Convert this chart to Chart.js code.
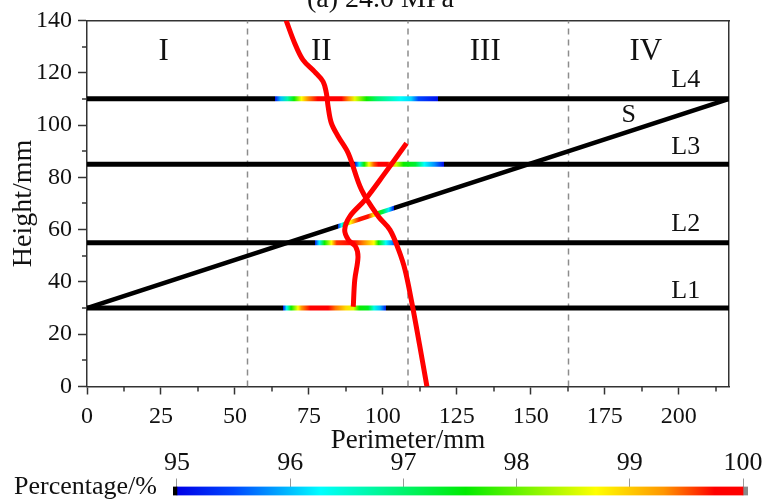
<!DOCTYPE html>
<html lang="en">
<head>
<meta charset="UTF-8" />
<title>Height vs Perimeter</title>
<script src="https://cdn.jsdelivr.net/npm/chart.js"></script>
<style>
  body { margin: 0; background: #fff; }
  .wrap { position: relative; width: 764px; height: 502px; overflow: hidden; background: #fff; }
  #main { position: absolute; left: 0; top: 0; }
  #bar { position: absolute; left: 0; top: 440px; }
  .title {
    position: absolute; left: 307px; top: -16.5px;
    font: 28px 'Liberation Serif', 'Times New Roman', serif;
    line-height: 28px; color: #111; white-space: nowrap;
  }
</style>
</head>
<body>
<div class="wrap">
  <canvas id="main" width="764" height="502"></canvas>
  <canvas id="bar" width="764" height="88"></canvas>
  <div class="title">(a) 24.0 MPa</div>
</div>
<script>
// axes
const xMax = 217
const xTicks = [0, 25, 50, 75, 100, 125, 150, 175, 200]
const yTicks = [0, 20, 40, 60, 80, 100, 120, 140]
const pctTicks = [95, 96, 97, 98, 99, 100]

// regions I-IV
const dividerX = [54.25, 108.5, 162.75]
const regionNames = ['I', 'II', 'III', 'IV']
const regionX = [25.9, 79.2, 134.6, 188.9]
const regionY = 128

// measuring lines L1-L4 and the slanted line S
const levelNames = ['L1', 'L2', 'L3', 'L4']
const levelY = [30, 55, 85, 110]
const levelLabelX = 202.4
const levelLabelY = [36.6, 62.2, 91.7, 117.3]
const slopeX = [0, 217]
const slopeY = [30, 110]
const slopeLabel = { x: 183.1, y: 103.9 }

// coloured bands on each line (perimeter, percentage)
const l1BandX = [66.2, 67.5, 69, 71.3, 72.5, 75.5, 81.5, 84, 87.5, 90, 92, 95, 97, 99, 101.2]
const l1BandPct = [95, 96.3, 97.6, 98.7, 99.3, 99.9, 99.9, 99.4, 98.9, 98.6, 97.6, 97.4, 96.4, 96, 95.1]
const l2BandX = [76.9, 78.5, 80.3, 82.6, 84.4, 90, 93, 95.5, 97, 98.5, 101, 103, 104.5]
const l2BandPct = [95, 96.2, 97.6, 98.7, 99.6, 99.9, 99.4, 99, 98.7, 97.6, 96.3, 95.8, 95.1]
const l3BandX = [90.5, 92, 93.7, 95.3, 97, 98.5, 101.5, 103, 104.5, 107, 111, 114, 117.5, 120.5]
const l3BandPct = [95, 96.2, 97.6, 98.7, 99.5, 99.9, 99.8, 99.2, 98.5, 97.6, 97.3, 96.3, 95.8, 95.1]
const l4BandX = [63.4, 65.5, 67.8, 70, 72.5, 74.5, 78, 86, 88.5, 90.5, 94.5, 98, 106, 109.5, 112, 118.8]
const l4BandPct = [95, 96, 96.7, 97.6, 98.7, 99.3, 99.8, 99.8, 99.3, 98.6, 97.6, 97, 96.3, 96.1, 95.5, 95.1]
const sBandX = [84.7, 86, 87.5, 89, 92, 95, 97, 98.5, 100, 102, 103.8]
const sBandPct = [95, 96.3, 97.6, 98.7, 99.7, 99.7, 98.7, 97.7, 97.2, 96.2, 95.1]

// red curves
const curveAX = [67.3, 70.2, 73.0, 76.9, 79.8, 80.9, 81.5, 82.6, 84.9, 88.3, 92.8, 98.5, 102.4, 105.3, 107.5, 109.8, 112.4, 114.9]
const curveAY = [140, 131.3, 124.9, 120.4, 116.6, 112.2, 107.0, 100.7, 95.6, 89.2, 75.2, 65.0, 59.9, 52.3, 44.6, 32, 16, 0]
const curveBX = [90, 90.5, 91.6, 90.8, 88.4, 87.1, 88.8, 93.9, 100.7, 108]
const curveBY = [30.5, 40.7, 49.5, 53.5, 56, 59.9, 65, 71.3, 81.6, 93]

// colour bar ends (under / over caps)
const pctLow = 94.965
const pctHigh = 100.044

const serif = "'Liberation Serif', 'Times New Roman', serif"
Chart.defaults.font.family = serif
Chart.defaults.color = '#111'

const jetStops = [
  [95, [0, 0, 230]], [95.5, [0, 70, 255]], [96.27, [0, 255, 255]], [97.55, [0, 235, 0]],
  [98.7, [255, 255, 0]], [99.3, [255, 150, 0]], [99.75, [255, 0, 0]], [100, [255, 0, 0]]
]
function jet(p) {
  if (p <= jetStops[0][0]) return 'rgb(' + jetStops[0][1].join(',') + ')'
  for (let i = 1; i < jetStops.length; i++) {
    const [v1, c1] = jetStops[i]
    const [v0, c0] = jetStops[i - 1]
    if (p <= v1) {
      const t = (p - v0) / (v1 - v0)
      const c = c0.map((a, k) => Math.round(a + (c1[k] - a) * t))
      return 'rgb(' + c.join(',') + ')'
    }
  }
  return 'rgb(255,0,0)'
}

// black line with a coloured band, gradient follows the x scale
function bandColor(x0, x1, bandX, bandPct) {
  return ctx => {
    const chart = ctx.chart
    if (!chart.chartArea) return '#000'
    const xs = chart.scales.x
    const p0 = xs.getPixelForValue(x0)
    const p1 = xs.getPixelForValue(x1)
    const off = v => Math.min(1, Math.max(0, (xs.getPixelForValue(v) - p0) / (p1 - p0)))
    const g = chart.ctx.createLinearGradient(p0, 0, p1, 0)
    g.addColorStop(0, '#000')
    g.addColorStop(off(bandX[0]), '#000')
    bandX.forEach((v, i) => g.addColorStop(off(v), jet(bandPct[i])))
    g.addColorStop(off(bandX[bandX.length - 1]), '#000')
    g.addColorStop(1, '#000')
    return g
  }
}

const bands = [[l1BandX, l1BandPct], [l2BandX, l2BandPct], [l3BandX, l3BandPct], [l4BandX, l4BandPct]]

const datasets = []
dividerX.forEach(x => {
  datasets.push({
    data: [{ x: x, y: 0 }, { x: x, y: 140 }],
    borderColor: '#8c8c8c', borderWidth: 1.5, borderDash: [6, 5], order: 3
  })
})
levelY.forEach((y, i) => {
  datasets.push({
    data: [{ x: 0, y: y }, { x: xMax, y: y }],
    borderColor: bandColor(0, xMax, bands[i][0], bands[i][1]), borderWidth: 5, order: 2
  })
})
datasets.push({
  data: slopeX.map((x, i) => ({ x: x, y: slopeY[i] })),
  borderColor: bandColor(slopeX[0], slopeX[1], sBandX, sBandPct), borderWidth: 4.5, order: 2
})
datasets.push({
  data: curveAX.map((x, i) => ({ x: x, y: curveAY[i] })),
  borderColor: '#ff0000', borderWidth: 5, tension: 0.35, order: 1
})
datasets.push({
  data: curveBX.map((x, i) => ({ x: x, y: curveBY[i] })),
  borderColor: '#ff0000', borderWidth: 5, tension: 0.35, order: 0
})
datasets.forEach(d => { d.showLine = true; d.pointRadius = 0; d.fill = false })

const minorTicks = {
  id: 'minorTicks',
  afterDraw(chart) {
    const { ctx, scales: { x, y } } = chart
    ctx.save()
    ctx.strokeStyle = '#333'
    ctx.lineWidth = 1.5
    for (let v = 12.5; v < xMax; v += 25) {
      const px = Math.round(x.getPixelForValue(v))
      ctx.beginPath(); ctx.moveTo(px, x.top); ctx.lineTo(px, x.top + 5); ctx.stroke()
    }
    for (let v = 10; v < 140; v += 20) {
      const py = Math.round(y.getPixelForValue(v))
      ctx.beginPath(); ctx.moveTo(y.right, py); ctx.lineTo(y.right - 5, py); ctx.stroke()
    }
    ctx.restore()
  }
}

const annotations = {
  id: 'annotations',
  afterDatasetsDraw(chart) {
    const { ctx, scales: { x, y } } = chart
    ctx.save()
    ctx.fillStyle = '#111'
    ctx.textAlign = 'center'
    ctx.textBaseline = 'middle'
    ctx.font = '31px ' + serif
    regionNames.forEach((t, i) => ctx.fillText(t, x.getPixelForValue(regionX[i]), y.getPixelForValue(regionY)))
    ctx.font = '26px ' + serif
    levelNames.forEach((t, i) => ctx.fillText(t, x.getPixelForValue(levelLabelX), y.getPixelForValue(levelLabelY[i])))
    ctx.fillText('S', x.getPixelForValue(slopeLabel.x), y.getPixelForValue(slopeLabel.y))
    ctx.restore()
  }
}

const axisColor = '#333'
new Chart(document.getElementById('main'), {
  type: 'scatter',
  data: { datasets: datasets },
  plugins: [minorTicks, annotations],
  options: {
    responsive: false,
    animation: false,
    devicePixelRatio: 1,
    layout: { padding: { left: 0, right: 35, top: 20, bottom: 0 } },
    plugins: { legend: { display: false }, tooltip: { enabled: false } },
    scales: {
      x: {
        type: 'linear', min: 0, max: xMax,
        afterBuildTicks: s => { s.ticks = xTicks.map(v => ({ value: v })) },
        afterFit: s => { s.height = 115.5 },
        ticks: { font: { size: 24 }, padding: 8, maxRotation: 0 },
        grid: { drawOnChartArea: false, tickLength: 8, tickColor: axisColor, tickWidth: 1.5 },
        border: { color: axisColor, width: 1.5 },
        title: { display: true, text: 'Perimeter/mm', font: { size: 27 }, padding: { top: 0, bottom: 45 } }
      },
      y: {
        type: 'linear', min: 0, max: 140,
        afterBuildTicks: s => { s.ticks = yTicks.map(v => ({ value: v })) },
        afterFit: s => { s.width = 87 },
        ticks: { font: { size: 24 }, padding: 6 },
        grid: { drawOnChartArea: false, tickLength: 9, tickColor: axisColor, tickWidth: 1.5 },
        border: { color: axisColor, width: 1.5 },
        title: { display: true, text: 'Height/mm', font: { size: 28 }, padding: { top: 7, bottom: 0 } }
      },
      x2: {
        type: 'linear', position: 'top', min: 0, max: xMax,
        ticks: { display: false }, grid: { display: false, drawTicks: false },
        border: { color: axisColor, width: 1.5 }
      },
      y2: {
        type: 'linear', position: 'right', min: 0, max: 140,
        ticks: { display: false }, grid: { display: false, drawTicks: false },
        border: { color: axisColor, width: 1.5 }
      }
    }
  }
})

// colour bar
function barGradient(ctx) {
  const chart = ctx.chart
  if (!chart.chartArea) return '#00f'
  const xs = chart.scales.x
  const p0 = xs.getPixelForValue(95)
  const p1 = xs.getPixelForValue(100)
  const g = chart.ctx.createLinearGradient(p0, 0, p1, 0)
  jetStops.forEach(([v, c]) => g.addColorStop((v - 95) / 5, 'rgb(' + c.join(',') + ')'))
  return g
}

new Chart(document.getElementById('bar'), {
  type: 'bar',
  data: {
    labels: ['Percentage/%'],
    datasets: [
      { data: [[pctLow, 95]], backgroundColor: '#000' },
      { data: [[95, 100]], backgroundColor: barGradient },
      { data: [[100, pctHigh]], backgroundColor: '#8a8a8a' }
    ]
  },
  options: {
    indexAxis: 'y',
    responsive: false,
    animation: false,
    devicePixelRatio: 1,
    datasets: { bar: { grouped: false, barPercentage: 1, categoryPercentage: 1, borderWidth: 0 } },
    layout: { padding: { left: 0, right: 16, top: 0, bottom: 32.5 } },
    plugins: { legend: { display: false }, tooltip: { enabled: false } },
    scales: {
      x: {
        type: 'linear', position: 'top', min: pctLow, max: pctHigh,
        afterBuildTicks: s => { s.ticks = pctTicks.map(v => ({ value: v })) },
        afterFit: s => { s.height = 46.5 },
        ticks: { font: { size: 26 }, padding: 0, maxRotation: 0 },
        grid: { drawOnChartArea: false, tickLength: 8, tickColor: '#999', tickWidth: 1 },
        border: { display: false }
      },
      y: {
        afterFit: s => { s.width = 173 },
        ticks: { font: { size: 26 }, padding: 16, labelOffset: -4 },
        grid: { display: false, drawTicks: false },
        border: { display: false }
      }
    }
  }
})
</script>
</body>
</html>
